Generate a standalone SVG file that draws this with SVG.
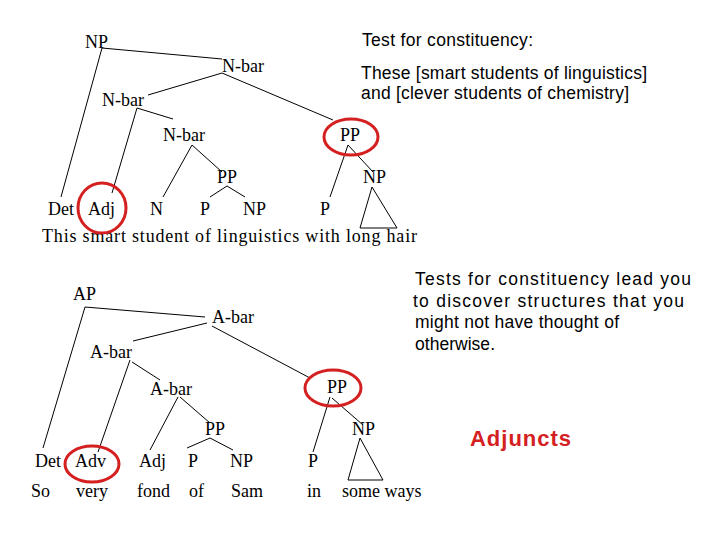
<svg xmlns="http://www.w3.org/2000/svg" width="720" height="540" viewBox="0 0 720 540">
<style>
.s{font-family:"Liberation Serif",serif;font-size:18px;fill:#000}
.a{font-family:"Liberation Sans",Arial,sans-serif;font-size:17.5px;fill:#000}
.e{fill:none;stroke:#000;stroke-width:1}
.c{fill:none;stroke:#d42020;stroke-width:3}
</style>
<rect width="720" height="540" fill="#fff"/>
<g id="connectors" class="e">
<path d="M102,48L222,59M102,48L61,197M222,73L148,95M222,73L333,120M137,108L112,193M137,108L173,119M192,145L163,197M192,145L222,172M227,186L210,197M227,186L245,197M348,145L330,197M348,145L373,172"/>
<path d="M372,187L360,228L397,228Z"/>
<path d="M85,307L205,317M85,307L43,448M207,323L133,341M212,326L310,378M130,360L98,452M132,362L160,380M178,397L150,450M180,397L210,423M210,438L187,448M210,438L233,450M330,397L313,452M332,398L363,425"/>
<path d="M360,438L348,480L383,480Z"/>
</g>
<g id="tree1">
<text class="s" x="85" y="48">NP</text>
<text class="s" x="222" y="72">N-bar</text>
<text class="s" x="102" y="106">N-bar</text>
<text class="s" x="163" y="141">N-bar</text>
<text class="s" x="217" y="183">PP</text>
<text class="s" x="340" y="141">PP</text>
<text class="s" x="363" y="183">NP</text>
<text class="s" x="48" y="215">Det</text>
<text class="s" x="88" y="215">Adj</text>
<text class="s" x="150" y="215">N</text>
<text class="s" x="200" y="215">P</text>
<text class="s" x="243" y="215">NP</text>
<text class="s" x="320" y="215">P</text>
<text class="s" x="42" y="242" textLength="375">This smart student of linguistics with long hair</text>
<ellipse class="c" cx="351" cy="137" rx="27" ry="18"/>
<ellipse class="c" cx="102" cy="208" rx="24" ry="25"/>
</g>
<g id="note1">
<text class="a" x="362" y="46" textLength="171">Test for constituency:</text>
<text class="a" x="361" y="79" textLength="286">These [smart students of linguistics]</text>
<text class="a" x="361" y="99" textLength="268">and [clever students of chemistry]</text>
</g>
<g id="tree2">
<text class="s" x="73" y="300">AP</text>
<text class="s" x="212" y="323">A-bar</text>
<text class="s" x="90" y="358">A-bar</text>
<text class="s" x="150" y="395">A-bar</text>
<text class="s" x="205" y="435">PP</text>
<text class="s" x="327" y="393">PP</text>
<text class="s" x="352" y="435">NP</text>
<text class="s" x="35" y="467">Det</text>
<text class="s" x="75" y="467">Adv</text>
<text class="s" x="139" y="467">Adj</text>
<text class="s" x="188" y="467">P</text>
<text class="s" x="230" y="467">NP</text>
<text class="s" x="308" y="467">P</text>
<text class="s" x="31" y="497">So</text>
<text class="s" x="76" y="497">very</text>
<text class="s" x="137" y="497">fond</text>
<text class="s" x="189" y="497">of</text>
<text class="s" x="231" y="497">Sam</text>
<text class="s" x="307" y="497">in</text>
<text class="s" x="342" y="497">some ways</text>
<ellipse class="c" cx="333" cy="388" rx="28" ry="18"/>
<ellipse class="c" cx="92" cy="464" rx="27" ry="18"/>
</g>
<g id="note2">
<text class="a" x="415" y="285" textLength="276">Tests for constituency lead you</text>
<text class="a" x="413" y="307" textLength="271">to discover structures that you</text>
<text class="a" x="415" y="328" textLength="204">might not have thought of</text>
<text class="a" x="415" y="350" textLength="80">otherwise.</text>
<text x="470" y="446" style="font-family:'Liberation Sans',Arial,sans-serif;font-size:22px;font-weight:bold;fill:#d42020" textLength="101">Adjuncts</text>
</g>
</svg>
